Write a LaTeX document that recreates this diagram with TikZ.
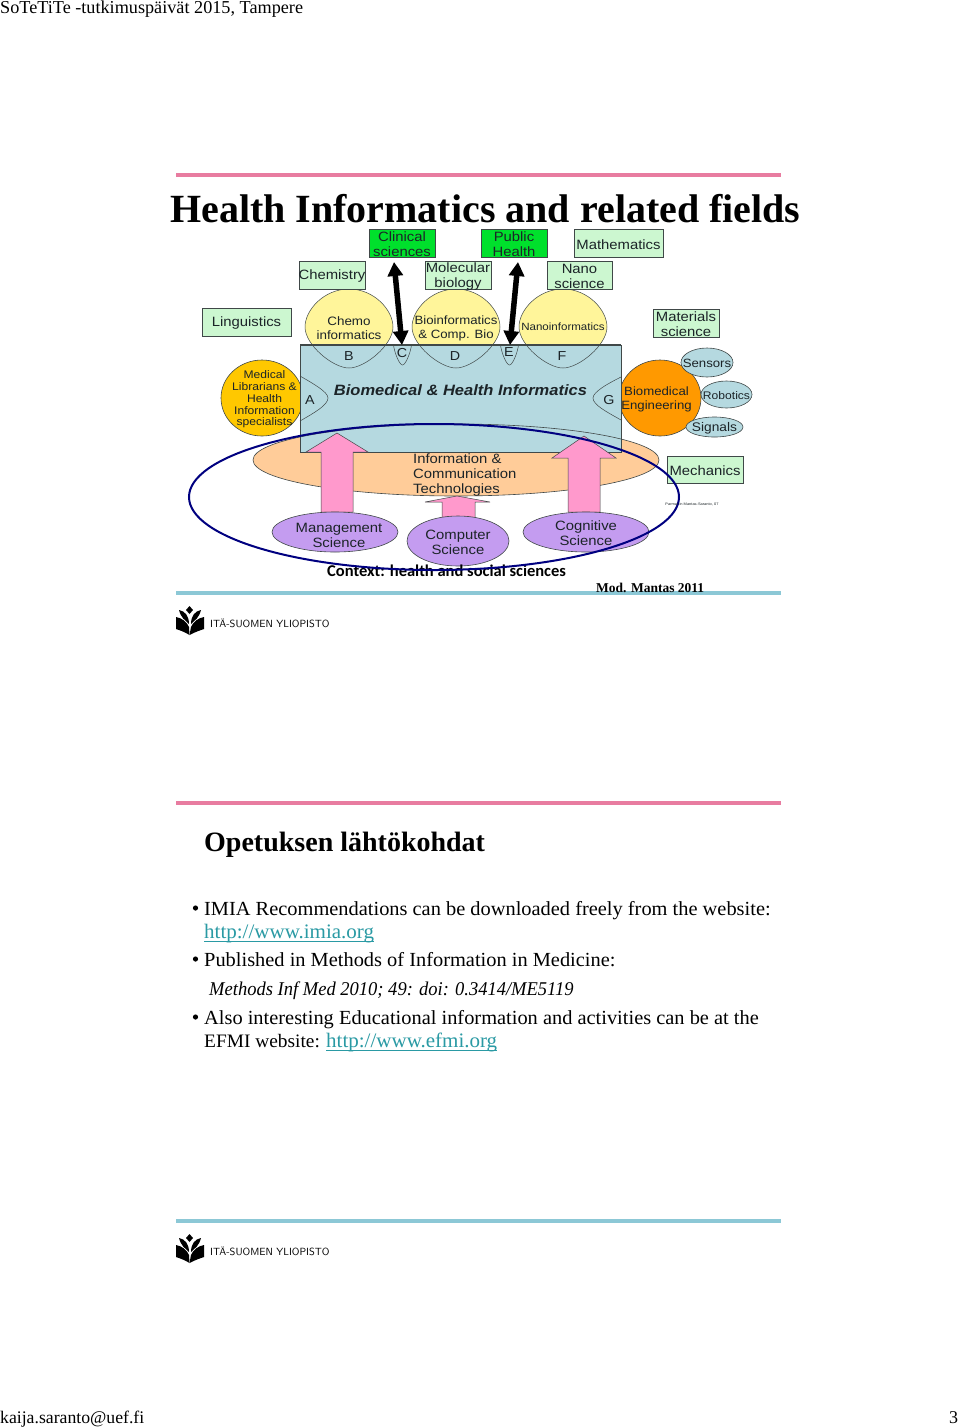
\documentclass[tikz,border=0pt]{standalone}
\usepackage{fontspec}
\usepackage{amsmath}
\usetikzlibrary{arrows.meta}
\setmainfont{Liberation Serif}
\newfontfamily\diagfont[FakeStretch=1.1]{Liberation Sans}
\newfontfamily\slidefont[FakeStretch=1.02]{Liberation Serif}
\newfontfamily\reffont[FakeStretch=.95]{Liberation Serif}
\newfontfamily\contextfont{Carlito}
\definecolor{slidepink}{HTML}{E87CA0}
\definecolor{slideblue}{HTML}{8CC8D6}
\definecolor{boxgreen}{HTML}{CCF7D0}
\definecolor{hotgreen}{HTML}{00E02C}
\definecolor{paleblue}{HTML}{B5D9E0}
\definecolor{paleyellow}{HTML}{FFF59A}
\definecolor{peach}{HTML}{FFCC99}
\definecolor{amber}{HTML}{FFC800}
\definecolor{deeporange}{HTML}{FF9900}
\definecolor{rosepink}{HTML}{FF99CC}
\definecolor{lilac}{HTML}{C49CF0}
\definecolor{navyline}{HTML}{000080}
\definecolor{linkteal}{HTML}{2A9AA4}
\definecolor{inkgray}{HTML}{404848}
\definecolor{difftone}{HTML}{1C2428}
\tikzset{
    slideline/.style={line width=4pt},
    plaintext/.style={anchor=base west,inner sep=0pt},
    fieldbox/.style={draw=inkgray,fill=boxgreen,line width=.9pt},
    hotbox/.style={fieldbox,fill=hotgreen},
    boxtext/.style={midway,yshift=-1.5pt,inner sep=0pt,align=center,text=difftone,
        font=\fontsize{13.5}{15}\selectfont\diagfont},
    difftext/.style={yshift=-1pt,inner sep=0pt,align=center,text=difftone,font=\fontsize{13}{14}\selectfont\diagfont},
    bluelobe/.style={draw=inkgray,line width=.5pt},
    thickarrow/.style={line width=5.5pt,{Triangle[length=14pt,width=15pt]}-{Triangle[length=14pt,width=15pt]}},
    blockarrow/.style={draw=inkgray,fill=rosepink,line width=.5pt},
    softoval/.style={draw=inkgray,line width=.6pt},
    bodytext/.style={plaintext,font=\fontsize{20}{24}\selectfont\slidefont},
    linktext/.style={plaintext,text=linkteal,font=\fontsize{20.6}{24}\selectfont\slidefont},
}
% the logo under each slide
\newcommand{\uniflogo}[2]{
    \begin{scope}[shift={(#1,#2)}]
        \fill[black] (13.5,2) -- (17,6) -- (13.5,10) -- (10,6) -- cycle;
        \fill[black] (0,13) .. controls (6,14) and (11,18) .. (13,23) -- (13.5,31) .. controls (9,28) and (3,26) .. (0,25) -- cycle;
        \fill[black] (28,13) .. controls (22,14) and (17,18) .. (15,23) -- (13.5,31) .. controls (19,28) and (25,26) .. (28,25) -- cycle;
        \fill[black] (3,6) .. controls (9,7) and (13,12) .. (13,20) .. controls (9,16) and (5,14) .. (3,6) -- cycle;
        \fill[black] (25,6) .. controls (19,7) and (15,12) .. (15,20) .. controls (19,16) and (23,14) .. (25,6) -- cycle;
    \end{scope}
}
\begin{document}
\begin{tikzpicture}[x=1pt,y=-1pt]
    \useasboundingbox (0,0) rectangle (960,1428);
    \fill[white] (0,0) rectangle (960,1428);

    % page header and footer
    \node[plaintext,font=\fontsize{18.2}{20}\selectfont] (pagehead) at (0,13) {SoTeTiTe -tutkimuspäivät 2015, Tampere};
    \node[plaintext,font=\fontsize{17.7}{20}\selectfont] (pagemail) at (0,1423) {kaija.saranto@uef.fi};
    \node[plaintext,font=\fontsize{18}{20}\selectfont] (pagenum) at (949,1423) {3};

    % first slide
    \draw[slideline,slidepink] (176,175) -- (781,175);
    \draw[slideline,slideblue] (176,593) -- (781,593);
    \node[plaintext,font=\fontsize{40}{44}\selectfont\bfseries] (title) at (170,222) {Health Informatics and related fields};

    \draw[draw=none,fill=peach] (456,460) ellipse (203pt and 36pt);
    \draw[softoval,fill=amber] (262,398) ellipse (41pt and 38pt);
    \draw[softoval,fill=deeporange] (660,398) ellipse (41pt and 38pt);
    \fill[paleblue] (300,345) rectangle (621,452);
    \draw[bluelobe] (300,452) -- (621,452) -- (621,345);
    \draw[bluelobe] (300,345) -- (300,452);
    \draw[softoval] (456,460) ellipse (203pt and 36pt);

    % yellow circles running into the box
    \foreach \cx in {349,456,563} {
        \begin{scope}
            \clip (290,280) rectangle (620,345);
            \fill[paleyellow] (\cx,289) .. controls (\cx+25,289) and (\cx+44,310) .. (\cx+44,327)
                .. controls (\cx+44,345) and (\cx+16,368) .. (\cx,368)
                .. controls (\cx-16,368) and (\cx-44,345) .. (\cx-44,327)
                .. controls (\cx-44,310) and (\cx-25,289) .. (\cx,289);
        \end{scope}
        \draw[bluelobe] (\cx,289) .. controls (\cx+25,289) and (\cx+44,310) .. (\cx+44,327)
            .. controls (\cx+44,345) and (\cx+16,368) .. (\cx,368)
            .. controls (\cx-16,368) and (\cx-44,345) .. (\cx-44,327)
            .. controls (\cx-44,310) and (\cx-25,289) .. (\cx,289);
    }
    \draw[inkgray,line width=1.3pt] (300,345) -- (621,345);
    \foreach \cx in {402.5,509.5} {
        \draw[bluelobe] (\cx-9,345) .. controls (\cx-8,353) and (\cx-3,365) .. (\cx,365) .. controls (\cx+3,365) and (\cx+8,353) .. (\cx+9,345);
    }
    \draw[bluelobe] (300,376) .. controls (314,384) and (328,392) .. (328,398) .. controls (328,405) and (314,413) .. (300,421);
    \draw[bluelobe] (621,377) .. controls (607,384) and (593,392) .. (593,398) .. controls (593,405) and (607,412) .. (621,420);

    \node[difftext] (lobeB) at (349,355) {B};
    \node[difftext] (lobeC) at (402,352) {C};
    \node[difftext] (lobeD) at (455,355) {D};
    \node[difftext] (lobeE) at (509,351) {E};
    \node[difftext] (lobeF) at (562,355) {F};
    \node[difftext] (lobeA) at (310,399) {A};
    \node[difftext] (lobeG) at (609,399) {G};

    \node[difftext,font=\fontsize{12.2}{14}\selectfont\diagfont] (chemoinf) at (349,327) {Chemo\\informatics};
    \node[difftext,font=\fontsize{12}{14}\selectfont\diagfont] (bioinf) at (456,327) {Bioinformatics\\\& Comp. Bio};
    \node[difftext,font=\fontsize{10.5}{12}\selectfont\diagfont] (nanoinf) at (563,326) {Nanoinformatics};
    \node[difftext,font=\fontsize{11}{11.8}\selectfont\diagfont] (medlib) at (264.5,398.5) {Medical\\Librarians \&\\Health\\Information\\specialists};
    \node[difftext,font=\fontsize{12}{14}\selectfont\diagfont] (bioeng) at (656.5,398.5) {Biomedical\\Engineering};
    \node[difftext,font=\bfseries\itshape\fontsize{15}{17}\selectfont\diagfont] (bhi) at (460.5,389) {Biomedical \& Health Informatics};

    % field boxes
    \draw[fieldbox] (202,308) rectangle (291,336) node[boxtext] (linguistics) {Linguistics};
    \draw[fieldbox] (299,261) rectangle (365,289) node[boxtext] (chemistry) {Chemistry};
    \draw[hotbox] (369,229) rectangle (435,257) node[boxtext] (clinical) {Clinical\\sciences};
    \draw[fieldbox] (425,261) rectangle (491,289) node[boxtext] (molecular) {Molecular\\biology};
    \draw[hotbox] (481,229) rectangle (547,257) node[boxtext] (public) {Public\\Health};
    \draw[fieldbox] (574,229) rectangle (663,257) node[boxtext] (mathematics) {Mathematics};
    \draw[fieldbox] (547,261) rectangle (612,289) node[boxtext] (nano) {Nano\\science};
    \draw[fieldbox] (653,309) rectangle (719,337) node[boxtext] (materials) {Materials\\science};
    \draw[fieldbox] (667,456) rectangle (743,483) node[boxtext] (mechanics) {Mechanics};

    % small ovals
    \draw[softoval,fill=paleblue] (707,362.5) ellipse (26pt and 14.5pt) node[difftext,font=\fontsize{12}{14}\selectfont\diagfont] (sensors) {Sensors};
    \draw[softoval,fill=paleblue] (726.5,394.5) ellipse (25.5pt and 13.5pt) node[difftext,font=\fontsize{11}{14}\selectfont\diagfont] (robotics) {Robotics};
    \draw[softoval,fill=paleblue] (714.5,427) ellipse (28.5pt and 10pt) node[difftext,font=\fontsize{12.5}{14}\selectfont\diagfont] (signals) {Signals};

    % double arrows
    \coordinate (clinicaltip) at (394,262);
    \coordinate (lobeCtip) at (402,345);
    \coordinate (publictip) at (518,262);
    \coordinate (lobeEtip) at (510,345);
    \draw[thickarrow] (clinicaltip) -- (lobeCtip);
    \draw[thickarrow] (publictip) -- (lobeEtip);

    % block arrows
    \draw[blockarrow] (337,433) -- (368,452) -- (353,452) -- (353,512) -- (321,512) -- (321,452) -- (306,452) -- cycle;
    \draw[blockarrow] (584,436) -- (616,458) -- (600,458) -- (600,512) -- (568,512) -- (568,458) -- (552,458) -- cycle;
    \draw[blockarrow] (457,496) -- (490,502) -- (475,502) -- (475,519) -- (442,519) -- (442,502) -- (425,502) -- cycle;

    \node[difftext,align=left,anchor=north west,font=\fontsize{13.5}{15}\selectfont\diagfont] (ict) at (413,453) {Information \&\\Communication\\Technologies};

    \draw[softoval,fill=lilac] (335,532) ellipse (63pt and 20pt) node[difftext,xshift=4pt,yshift=-2pt,font=\fontsize{13.5}{15}\selectfont\diagfont] (management) {Management\\Science};
    \draw[softoval,fill=lilac] (458,541) ellipse (51pt and 25pt) node[difftext,font=\fontsize{13.5}{15}\selectfont\diagfont] (computer) {Computer\\Science};
    \draw[softoval,fill=lilac] (586,532) ellipse (63pt and 20pt) node[difftext,font=\fontsize{13.5}{15.5}\selectfont\diagfont] (cognitive) {Cognitive\\Science};

    \node[plaintext,font=\fontsize{16.5}{18}\selectfont\contextfont\bfseries] (context) at (327,576) {Context: health and social sciences};
    \draw[navyline,line width=2pt] (434,497) ellipse (245pt and 73pt);
    \node[difftext,font=\fontsize{3.6}{4}\selectfont\diagfont] (source) at (692,503) {Parmar in Mantas-Saranto, 07};
    \node[plaintext,font=\fontsize{13.5}{16}\selectfont\bfseries] (credit) at (596,592) {Mod. Mantas 2011};

    \uniflogo{176}{604}
    \node[plaintext,font=\fontsize{10.4}{12}\selectfont\sffamily] (uefname) at (210,627) {ITÄ-SUOMEN YLIOPISTO};

    % second slide
    \draw[slideline,slidepink] (176,803) -- (781,803);
    \draw[slideline,slideblue] (176,1221) -- (781,1221);
    \node[plaintext,font=\fontsize{28}{32}\selectfont\bfseries] (heading) at (204,851) {Opetuksen lähtökohdat};

    \node[bodytext] (imia) at (204,915) {IMIA Recommendations can be downloaded freely from the website:};
    \node[linktext] (imialink) at (204,938) {\underline{\smash{http://www.imia.org}}};
    \node[bodytext] (methods) at (204,966) {Published in Methods of Information in Medicine:};
    \node[bodytext,font=\fontsize{19.5}{24}\selectfont\reffont\itshape] (methodsref) at (209,995) {Methods Inf Med 2010; 49: doi: 0.3414/ME5119};
    \node[bodytext] (efmi) at (204,1024) {Also interesting Educational information and activities can be at the};
    \node[bodytext,font=\fontsize{19}{24}\selectfont\slidefont] (efmiword) at (204,1047) {EFMI website:};
    \node[linktext] (efmilink) at (326,1047) {\underline{\smash{http://www.efmi.org}}};
    \foreach \by in {908,959,1017} {
        \fill[black] (195.5,\by) circle (2.6pt);
    }

    \uniflogo{176}{1232}
    \node[plaintext,font=\fontsize{10.4}{12}\selectfont\sffamily] (uefnamelow) at (210,1255) {ITÄ-SUOMEN YLIOPISTO};
\end{tikzpicture}
\end{document}
